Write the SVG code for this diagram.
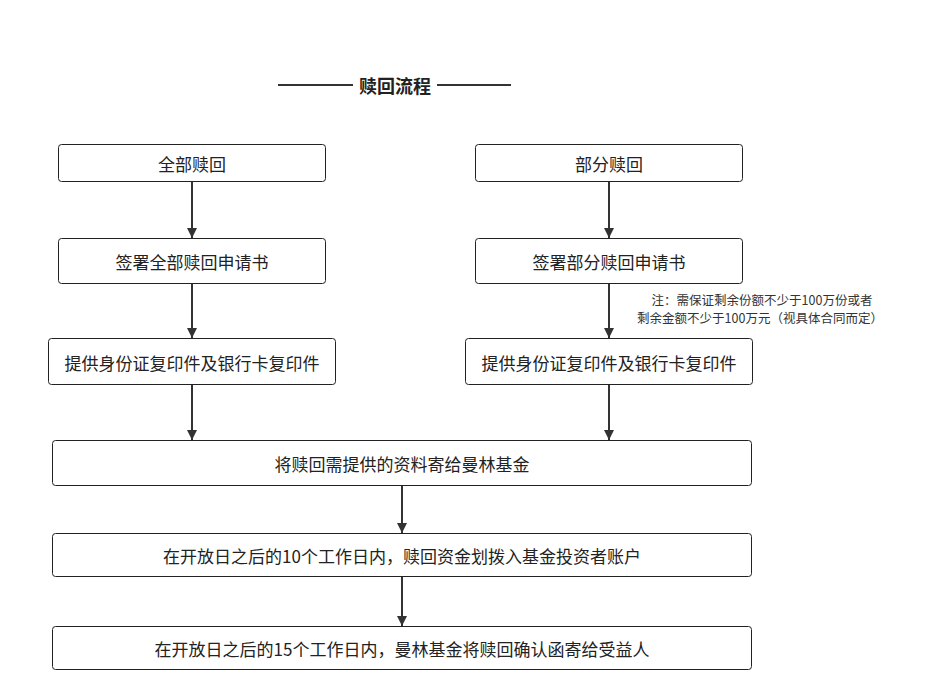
<svg xmlns="http://www.w3.org/2000/svg" width="938" height="700" viewBox="0 0 938 700">
<style>
.b{fill:#fff;stroke:#222;stroke-width:1}
.t{font-family:"Noto Sans CJK SC","Noto Sans",sans-serif;font-size:17px;fill:#222;text-anchor:middle;dominant-baseline:central}
.n{font-family:"Noto Sans CJK SC","Noto Sans",sans-serif;font-size:12.5px;fill:#333;text-anchor:middle}
.c{stroke:#333;stroke-width:2;fill:none;marker-end:url(#a)}
</style>
<defs><marker id="a" viewBox="0 0 10 10" refX="10" refY="5" markerWidth="5" markerHeight="6" orient="auto" markerUnits="strokeWidth"><path d="M0,0L10,5L0,10z" fill="#333"/></marker></defs>
<rect width="938" height="700" fill="#fff"/>
<g id="title">
<line x1="278" y1="85" x2="353" y2="85" stroke="#333" stroke-width="2"/>
<line x1="437" y1="85" x2="511" y2="85" stroke="#333" stroke-width="2"/>
<text x="395" y="85" class="t" style="font-weight:bold;font-size:18px">赎回流程</text>
</g>
<g id="n1"><rect class="b" x="58.5" y="144.5" width="267" height="37" rx="3"/><text class="t" x="192" y="163">全部赎回</text></g>
<g id="n2"><rect class="b" x="475.5" y="144.5" width="267" height="37" rx="3"/><text class="t" x="609" y="163">部分赎回</text></g>
<g id="n3"><rect class="b" x="58.5" y="238.5" width="267" height="45" rx="3"/><text class="t" x="192" y="261">签署全部赎回申请书</text></g>
<g id="n4"><rect class="b" x="475.5" y="238.5" width="267" height="45" rx="3"/><text class="t" x="609" y="261">签署部分赎回申请书</text></g>
<g id="n5"><rect class="b" x="48.5" y="338.5" width="287" height="46" rx="3"/><text class="t" x="192" y="362">提供身份证复印件及银行卡复印件</text></g>
<g id="n6"><rect class="b" x="465.5" y="338.5" width="287" height="46" rx="3"/><text class="t" x="609" y="362">提供身份证复印件及银行卡复印件</text></g>
<g id="n7"><rect class="b" x="52.5" y="440.5" width="699" height="45" rx="3"/><text class="t" x="402" y="463">将赎回需提供的资料寄给曼林基金</text></g>
<g id="n8"><rect class="b" x="52.5" y="533.5" width="699" height="43" rx="3"/><text class="t" x="402" y="555">在开放日之后的10个工作日内，赎回资金划拨入基金投资者账户</text></g>
<g id="n9"><rect class="b" x="52.5" y="626.5" width="699" height="43" rx="3"/><text class="t" x="402" y="648">在开放日之后的15个工作日内，曼林基金将赎回确认函寄给受益人</text></g>
<g id="note"><text class="n" x="762" y="305">注：需保证剩余份额不少于100万份或者</text><text class="n" x="760" y="323">剩余金额不少于100万元（视具体合同而定）</text></g>
<g id="connectors">
<line class="c" x1="192" y1="182" x2="192" y2="238"/>
<line class="c" x1="609" y1="182" x2="609" y2="238"/>
<line class="c" x1="192" y1="284" x2="192" y2="338"/>
<line class="c" x1="609" y1="284" x2="609" y2="338"/>
<line class="c" x1="192" y1="385" x2="192" y2="440"/>
<line class="c" x1="609" y1="385" x2="609" y2="440"/>
<line class="c" x1="402" y1="486" x2="402" y2="533"/>
<line class="c" x1="402" y1="577" x2="402" y2="626"/>
</g>
</svg>
